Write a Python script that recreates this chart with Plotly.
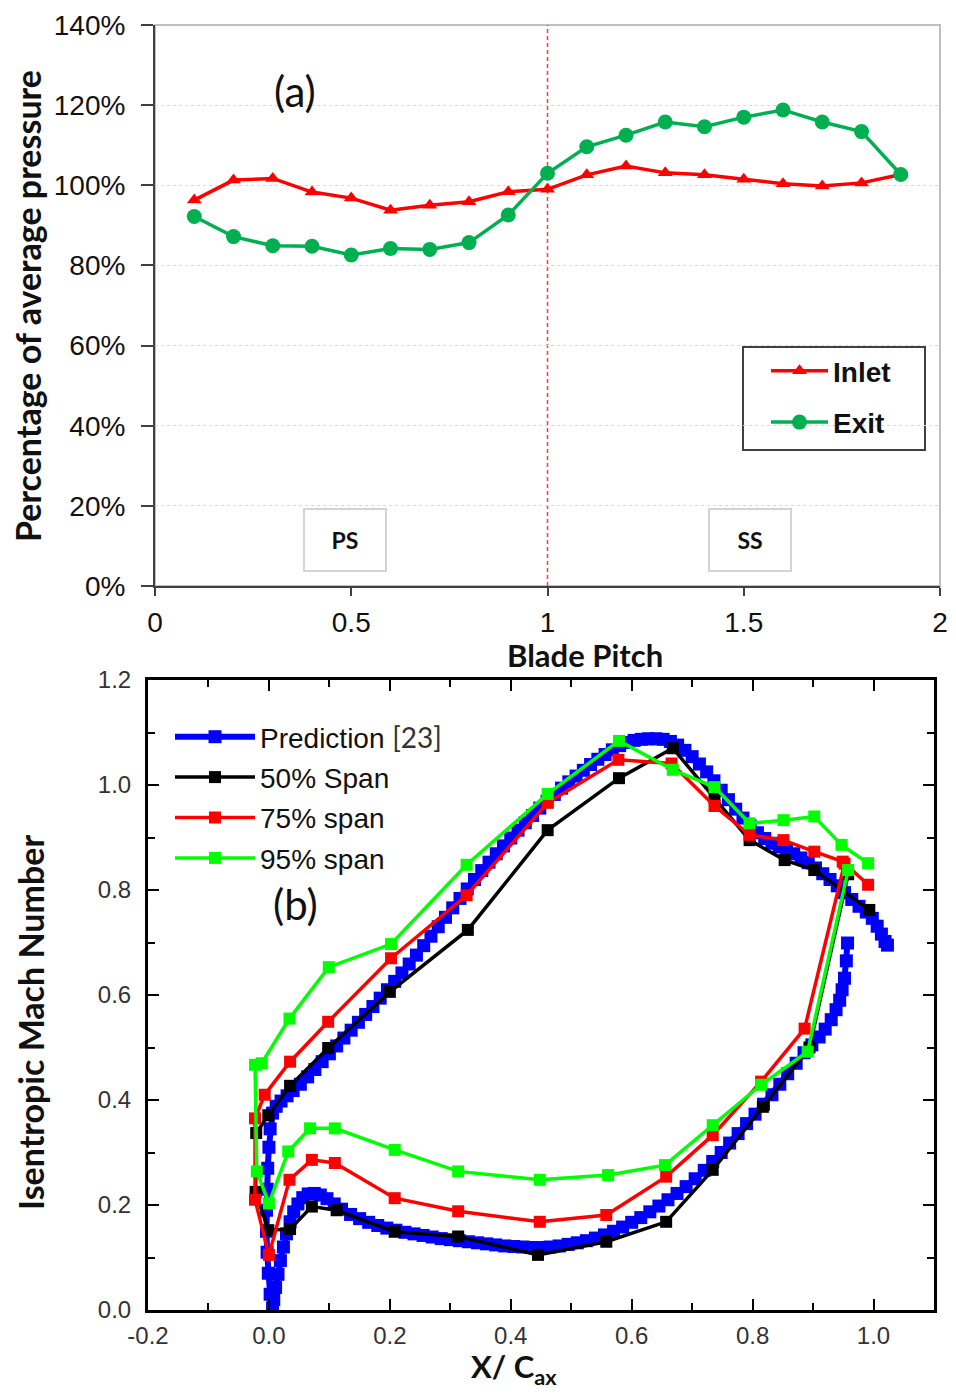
import plotly.graph_objects as go

PAGE_W, PAGE_H = 956, 1397
OFF = 8  # default body margin of the html page
W, H = PAGE_W - 2 * OFF, PAGE_H - 2 * OFF

# ---------------- (a) data ----------------
pitch = [0.1, 0.2, 0.3, 0.4, 0.5, 0.6, 0.7, 0.8, 0.9, 1.0,
         1.1, 1.2, 1.3, 1.4, 1.5, 1.6, 1.7, 1.8, 1.9]
inlet = [96.3, 101.3, 101.7, 98.3, 96.8, 93.8, 95.0, 95.9, 98.4, 99.0,
         102.6, 104.8, 103.1, 102.6, 101.5, 100.4, 99.8, 100.6, 102.7]
exit_ = [92.2, 87.2, 84.9, 84.8, 82.6, 84.2, 84.0, 85.7, 92.6, 103.0,
         109.6, 112.5, 115.8, 114.6, 117.0, 118.8, 115.8, 113.4, 102.7]
a_xticks = [0, 0.5, 1, 1.5, 2]
a_xticktext = ["0", "0.5", "1", "1.5", "2"]
a_yticks = [0, 20, 40, 60, 80, 100, 120, 140]
a_yticktext = ["0%", "20%", "40%", "60%", "80%", "100%", "120%", "140%"]
a_regions = ["PS", "SS"]
a_region_x = [0.483, 1.515]
a_region_y = [11.4, 11.4]

# ---------------- (b) data ----------------
pred_x = [0.957, 0.955, 0.952, 0.948, 0.944, 0.938, 0.930, 0.920, 0.910, 0.898,
          0.885, 0.872, 0.858, 0.845, 0.832, 0.818, 0.804, 0.790, 0.776, 0.762,
          0.748, 0.734, 0.720, 0.705, 0.690, 0.675, 0.660, 0.645, 0.630, 0.615,
          0.600, 0.585, 0.570, 0.555, 0.540, 0.525, 0.510, 0.495, 0.480, 0.465,
          0.450, 0.435, 0.420, 0.405, 0.390, 0.375, 0.360, 0.345, 0.330, 0.315,
          0.300, 0.285, 0.270, 0.255, 0.240, 0.225, 0.210, 0.195, 0.180, 0.165,
          0.150, 0.135, 0.120, 0.108, 0.096, 0.085, 0.075, 0.065, 0.056, 0.048,
          0.041, 0.035, 0.029, 0.024, 0.019, 0.015, 0.011, 0.008, 0.006,
          0.002, -0.001, -0.003, -0.004, -0.004, -0.003, -0.002, 0.000, 0.002, 0.006,
          0.012, 0.020, 0.030, 0.040, 0.052, 0.064, 0.076, 0.088, 0.100, 0.112,
          0.124, 0.136, 0.148, 0.160, 0.172, 0.184, 0.196, 0.208, 0.220, 0.232,
          0.244, 0.256, 0.268, 0.280, 0.292, 0.304, 0.316, 0.328, 0.340, 0.352,
          0.364, 0.376, 0.388, 0.400, 0.412, 0.424, 0.436, 0.448, 0.460, 0.472,
          0.484, 0.496, 0.508, 0.520, 0.532, 0.544, 0.556, 0.568, 0.580, 0.592,
          0.604, 0.616, 0.628, 0.640, 0.652, 0.664, 0.676, 0.688, 0.700, 0.712,
          0.724, 0.736, 0.748, 0.760, 0.772, 0.784, 0.796, 0.808, 0.820, 0.832,
          0.844, 0.856, 0.868, 0.880, 0.892, 0.904, 0.916, 0.928, 0.940, 0.952,
          0.964, 0.976, 0.988, 0.998, 1.006, 1.013, 1.019, 1.023]
pred_y = [0.699, 0.665, 0.632, 0.610, 0.590, 0.572, 0.553, 0.535, 0.520, 0.505,
          0.490, 0.470, 0.450, 0.430, 0.410, 0.392, 0.373, 0.355, 0.336, 0.318,
          0.300, 0.283, 0.266, 0.250, 0.235, 0.222, 0.210, 0.198, 0.187, 0.176,
          0.167, 0.158, 0.150, 0.143, 0.137, 0.132, 0.128, 0.125, 0.122, 0.120,
          0.119, 0.119, 0.120, 0.121, 0.122, 0.124, 0.126, 0.128, 0.130, 0.132,
          0.134, 0.136, 0.139, 0.142, 0.145, 0.148, 0.152, 0.156, 0.161, 0.167,
          0.174, 0.182, 0.192, 0.202, 0.212, 0.219, 0.222, 0.221, 0.214, 0.202,
          0.187, 0.168, 0.145, 0.120, 0.094, 0.068, 0.043, 0.020, 0.004,
          0.030, 0.070, 0.110, 0.150, 0.190, 0.230, 0.270, 0.310, 0.345, 0.375,
          0.388, 0.398, 0.408, 0.418, 0.430, 0.444, 0.458, 0.473, 0.488, 0.503,
          0.518, 0.533, 0.548, 0.563, 0.578, 0.594, 0.610, 0.626, 0.642, 0.659,
          0.676, 0.694, 0.712, 0.730, 0.748, 0.766, 0.784, 0.802, 0.820, 0.837,
          0.853, 0.869, 0.884, 0.899, 0.914, 0.928, 0.942, 0.956, 0.969, 0.982,
          0.994, 1.006, 1.017, 1.028, 1.039, 1.049, 1.058, 1.067, 1.075, 1.081,
          1.085, 1.087, 1.088, 1.088, 1.087, 1.083, 1.076, 1.066, 1.054, 1.040,
          1.025, 1.008, 0.990, 0.972, 0.954, 0.937, 0.922, 0.909, 0.898, 0.889,
          0.882, 0.876, 0.869, 0.861, 0.852, 0.842, 0.831, 0.820, 0.808, 0.795,
          0.782, 0.769, 0.758, 0.746, 0.731, 0.716, 0.702, 0.695]

span50_x = [0.958, 0.894, 0.817, 0.734, 0.657, 0.558, 0.445, 0.313, 0.208, 0.112,
            0.071, 0.035, -0.001, -0.022, -0.021, -0.001, 0.035, 0.098, 0.200, 0.329,
            0.461, 0.579, 0.668, 0.737, 0.795, 0.853, 0.902, 0.993]
span50_y = [0.830, 0.500, 0.387, 0.267, 0.168, 0.130, 0.105, 0.140, 0.149, 0.190,
            0.197, 0.154, 0.152, 0.225, 0.337, 0.371, 0.427, 0.499, 0.606, 0.724,
            0.914, 1.013, 1.070, 0.975, 0.895, 0.857, 0.838, 0.762]

span75_x = [0.952, 0.886, 0.814, 0.734, 0.657, 0.558, 0.448, 0.313, 0.208, 0.109,
            0.071, 0.034, 0.000, -0.023, -0.023, -0.007, 0.035, 0.098, 0.202, 0.327,
            0.461, 0.578, 0.666, 0.737, 0.795, 0.851, 0.902, 0.949, 0.991]
span75_y = [0.850, 0.536, 0.435, 0.333, 0.254, 0.181, 0.168, 0.188, 0.213, 0.280,
            0.286, 0.248, 0.105, 0.210, 0.365, 0.410, 0.473, 0.549, 0.670, 0.790,
            0.966, 1.048, 1.041, 0.960, 0.905, 0.895, 0.873, 0.854, 0.810]

span95_x = [0.958, 0.891, 0.814, 0.734, 0.655, 0.561, 0.448, 0.313, 0.208, 0.109,
            0.068, 0.032, 0.000, -0.020, -0.023, -0.012, 0.034, 0.099, 0.202, 0.327,
            0.461, 0.579, 0.668, 0.737, 0.795, 0.851, 0.902, 0.947, 0.991]
span95_y = [0.838, 0.492, 0.429, 0.352, 0.276, 0.257, 0.248, 0.264, 0.305, 0.346,
            0.346, 0.302, 0.203, 0.264, 0.467, 0.470, 0.555, 0.653, 0.697, 0.848,
            0.983, 1.084, 1.029, 0.996, 0.927, 0.933, 0.940, 0.886, 0.851]

b_xticks = [-0.2, 0.0, 0.2, 0.4, 0.6, 0.8, 1.0]
b_xticktext = ["-0.2", "0.0", "0.2", "0.4", "0.6", "0.8", "1.0"]
b_yticks = [0.0, 0.2, 0.4, 0.6, 0.8, 1.0, 1.2]
b_yticktext = ["0.0", "0.2", "0.4", "0.6", "0.8", "1.0", "1.2"]
b_names = ["Prediction <span style='font-family:Lato;color:#333'>[23]</span>",
           "50% Span", "75% span", "95% span"]


def px_x(p):
    return (p - OFF) / W


def px_y(p):
    return 1 - (p - OFF) / H


fig = go.Figure()

NARROW = "Liberation Sans Narrow, Liberation Sans, Arial, sans-serif"
SANS = "Liberation Sans, Arial, sans-serif"
CAL = "Lato, Carlito, sans-serif"

# (a) traces
fig.add_trace(go.Scatter(
    x=pitch, y=inlet, name="Inlet", mode="lines+markers",
    line=dict(color="#ff0000", width=3.5),
    marker=dict(symbol="triangle-up", size=13, color="#ff0000"),
    xaxis="x", yaxis="y", legend="legend", legendgroup="a1"))
fig.add_trace(go.Scatter(
    x=pitch, y=exit_, name="Exit", mode="lines+markers",
    line=dict(color="#00b050", width=3.5),
    marker=dict(symbol="circle", size=15, color="#00b050"),
    xaxis="x", yaxis="y", legend="legend", legendgroup="a2"))

# (b) traces
b_series = [(pred_x, pred_y, "#0000ff", 6, 13), (span50_x, span50_y, "#000000", 3.5, 12),
            (span75_x, span75_y, "#ff0000", 3.5, 12), (span95_x, span95_y, "#00ff00", 3.5, 12)]
for i, (xs, ys, col, lw, ms) in enumerate(b_series):
    fig.add_trace(go.Scatter(
        x=xs, y=ys, name=b_names[i], mode="lines+markers",
        line=dict(color=col, width=lw),
        marker=dict(symbol="square", size=ms, color=col),
        xaxis="x2", yaxis="y2", legend="legend2", legendgroup="b%d" % i))

a_xdom = [px_x(155), px_x(940)]
a_ydom = [px_y(586), px_y(25)]
b_xdom = [px_x(148), px_x(934)]
b_ydom = [px_y(1310), px_y(680)]

fig.update_layout(
    width=W, height=H,
    margin=dict(l=0, r=0, t=0, b=0, autoexpand=False),
    paper_bgcolor="white", plot_bgcolor="white",
    showlegend=True,
    xaxis=dict(domain=a_xdom, anchor="y", range=[0, 2], tickvals=a_xticks,
               ticktext=a_xticktext, automargin=False, ticklabeloverflow="allow",
               ticks="outside", ticklen=8, tickwidth=2, tickcolor="#404040",
               showline=True, linecolor="#404040", linewidth=2,
               showgrid=False, zeroline=False,
               tickfont=dict(family=SANS, size=28, color="#111"),
               ticklabelstandoff=2),
    yaxis=dict(domain=a_ydom, anchor="x", range=[0, 140], tickvals=a_yticks,
               ticktext=a_yticktext, automargin=False, ticklabeloverflow="allow",
               ticks="outside", ticklen=12, tickwidth=2,
               tickcolor="#404040", showline=True, linecolor="#404040", linewidth=2,
               showgrid=True, gridcolor="#d9d9d9", griddash="dot", gridwidth=1,
               zeroline=False,
               tickfont=dict(family=SANS, size=28, color="#111"),
               ticklabelstandoff=10),
    xaxis2=dict(domain=b_xdom, anchor="y2", range=[-0.2, 1.1], tickvals=b_xticks,
                ticktext=b_xticktext, automargin=False, ticklabeloverflow="allow",
                ticks="inside", ticklen=11, tickwidth=2,
                tickcolor="black", mirror="ticks",
                minor=dict(dtick=0.1, tick0=0, ticks="inside", ticklen=7, tickwidth=2,
                           tickcolor="black"),
                showline=True, linecolor="black", linewidth=3,
                showgrid=False, zeroline=False,
                tickfont=dict(family=NARROW, size=24, color="#333"),
                ticklabelstandoff=2),
    yaxis2=dict(domain=b_ydom, anchor="x2", range=[0, 1.2], tickvals=b_yticks,
                ticktext=b_yticktext, automargin=False, ticklabeloverflow="allow",
                ticks="inside", ticklen=11, tickwidth=2,
                tickcolor="black", mirror="ticks",
                minor=dict(dtick=0.1, tick0=0, ticks="inside", ticklen=7, tickwidth=2,
                           tickcolor="black"),
                showline=True, linecolor="black", linewidth=3,
                showgrid=False, zeroline=False,
                tickfont=dict(family=NARROW, size=24, color="#333"),
                ticklabelstandoff=9),
    legend=dict(x=px_x(766), y=px_y(346), xanchor="left", yanchor="top",
                bgcolor="rgba(0,0,0,0)", borderwidth=0,
                font=dict(family=SANS, size=28, color="#111", weight="bold"),
                tracegroupgap=12, itemwidth=57),
    legend2=dict(x=px_x(170), y=px_y(712), xanchor="left", yanchor="top",
                 bgcolor="rgba(0,0,0,0)", borderwidth=0,
                 font=dict(family=SANS, size=28, color="#111"),
                 tracegroupgap=1, itemwidth=80),
)

shapes = [
    dict(type="rect", xref="x domain", yref="y domain", x0=0, x1=1, y0=0, y1=1,
         line=dict(color="#bfbfbf", width=2), layer="below"),
    dict(type="line", xref="x", yref="y domain", x0=1, x1=1, y0=0, y1=1,
         line=dict(color="#ff3b3b", width=1.5, dash="4px,3px"), layer="below"),
    # frame of the legend of (a)
    dict(type="rect", xref="paper", yref="paper",
         x0=px_x(743), x1=px_x(925), y0=px_y(450), y1=px_y(347),
         line=dict(color="#404040", width=2), fillcolor="white", layer="below"),
]
fig.update_layout(shapes=shapes)

annotations = []
for t, xv, yv in zip(a_regions, a_region_x, a_region_y):
    annotations.append(dict(xref="x", yref="y", x=xv, y=yv, text="<b>%s</b>" % t,
                            showarrow=False, width=78, height=58,
                            xanchor="center", yanchor="middle",
                            bordercolor="#d4d4d4", borderwidth=2, borderpad=1,
                            bgcolor="white",
                            font=dict(family=CAL, size=23, color="#111")))
annotations += [
    dict(xref="paper", yref="paper", x=px_x(295), y=px_y(91), text="(a)",
         xanchor="center", yanchor="middle",
         showarrow=False, font=dict(family=CAL, size=42, color="#111")),
    dict(xref="paper", yref="paper", x=px_x(295), y=px_y(904), text="(b)",
         xanchor="center", yanchor="middle",
         showarrow=False, font=dict(family=CAL, size=42, color="#111")),
    dict(xref="paper", yref="paper", x=px_x(28), y=px_y(306), textangle=-90,
         xanchor="center", yanchor="middle",
         text="<b>Percentage of average pressure</b>", showarrow=False,
         font=dict(family=CAL, size=34, color="#111")),
    dict(xref="paper", yref="paper", x=px_x(585), y=px_y(655),
         xanchor="center", yanchor="middle",
         text="<b>Blade Pitch</b>", showarrow=False,
         font=dict(family=CAL, size=31, color="#111")),
    dict(xref="paper", yref="paper", x=px_x(30), y=px_y(1023), textangle=-90,
         xanchor="center", yanchor="middle",
         text="<b>Isentropic Mach Number</b>", showarrow=False,
         font=dict(family=CAL, size=34, color="#111")),
    dict(xref="paper", yref="paper", x=px_x(514), y=px_y(1368),
         xanchor="center", yanchor="middle",
         text="<b>X/ C<sub>ax</sub></b>", showarrow=False,
         font=dict(family=CAL, size=31, color="#111")),
]
fig.update_layout(annotations=annotations)

fig.write_html("out.html")
